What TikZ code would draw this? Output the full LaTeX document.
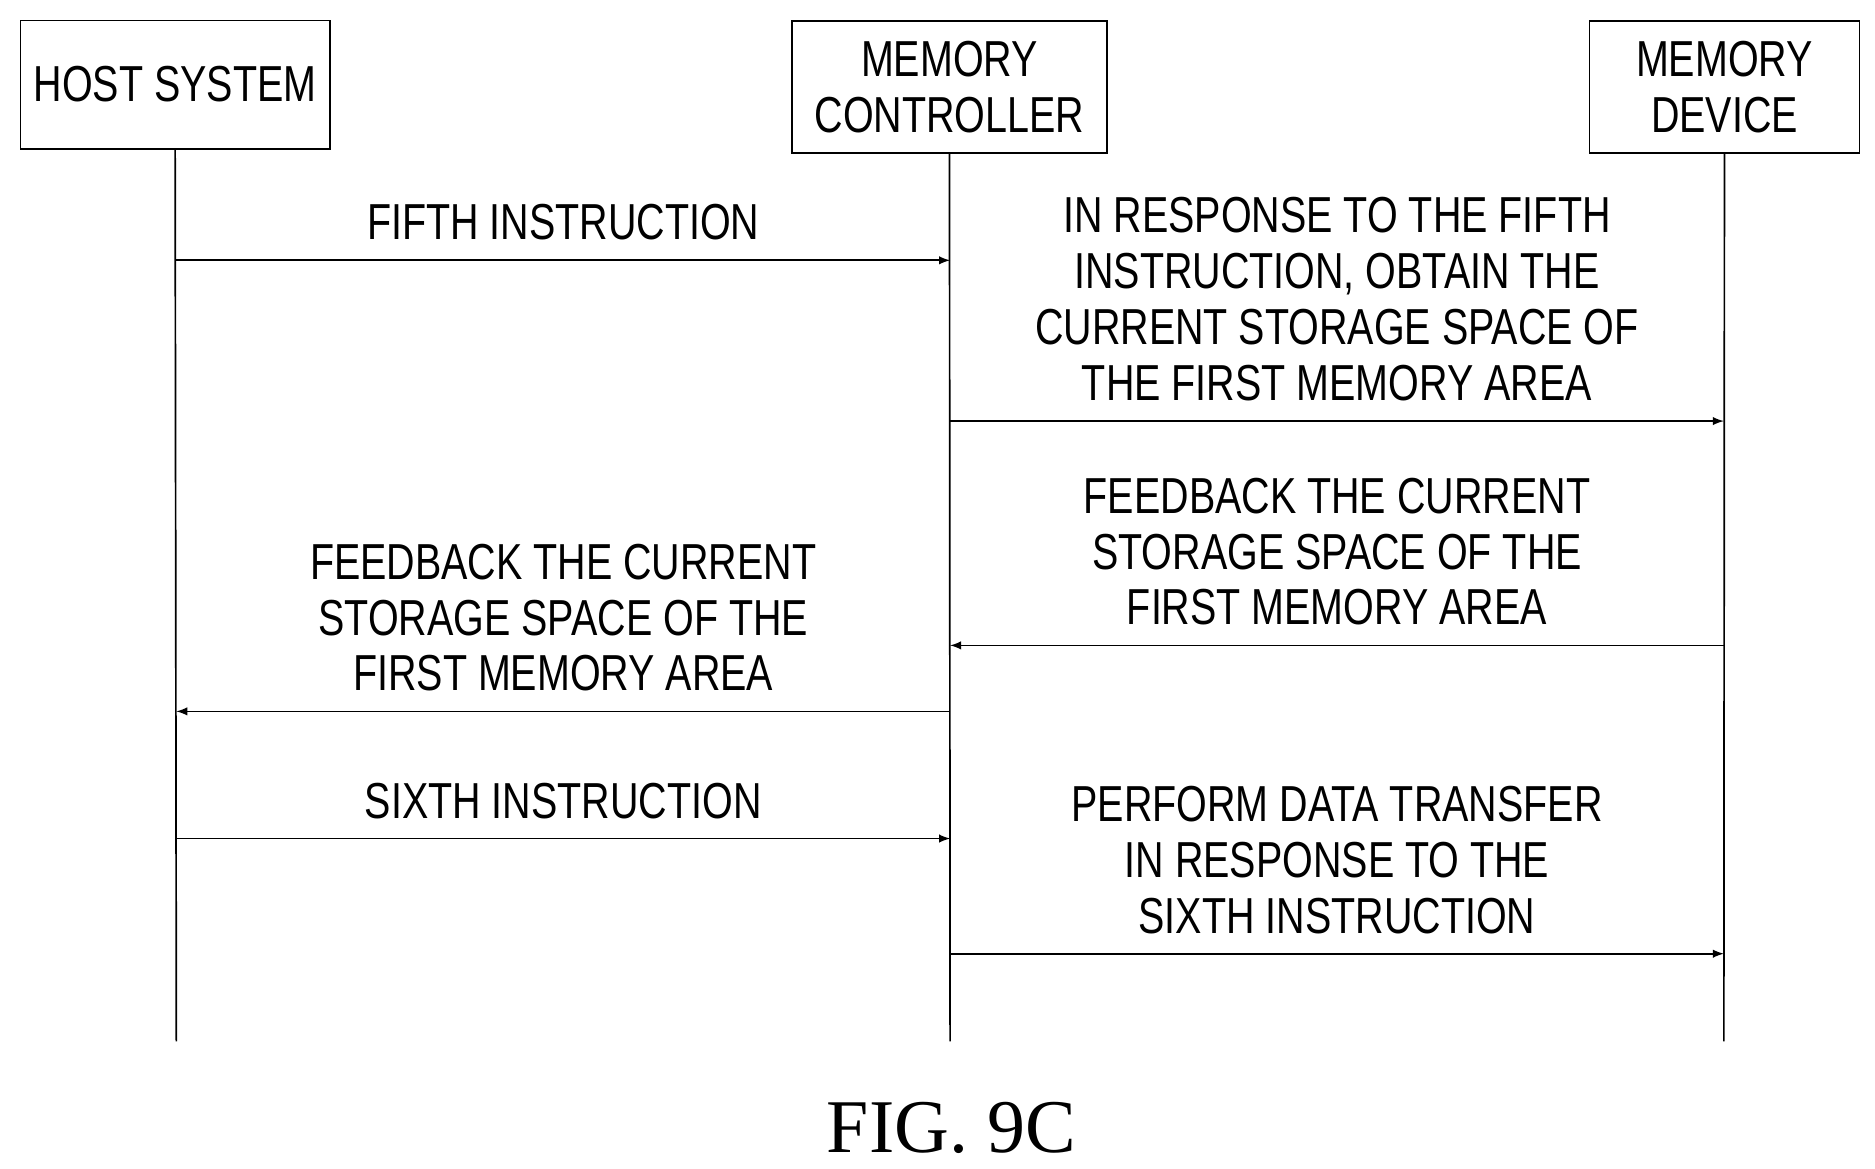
\documentclass[tikz,border=0pt]{standalone}
\usepackage{fontspec}
\setmainfont{Liberation Sans}[FakeStretch=0.78]
\newfontfamily\figfont{Liberation Serif}
\begin{document}
\begin{tikzpicture}[x=0.02cm, y=-0.02cm,
		every node/.style={font=\fontsize{24}{26.5}\selectfont, align=center},
		party/.style={draw, thick, rectangle, minimum height=2.2cm},
		msg/.style={-latex, thick},
		lbl/.style={above, midway, inner sep=0pt, yshift=3.2mm}]
	\useasboundingbox (0, 0) rectangle (1563, 974);

	\node[party, minimum width=5.16cm, minimum height=2.14cm] (host) at (146, 70.5) {HOST SYSTEM};
	\node[party, minimum width=5.26cm] (ctrl) at (791.5, 72.5) {MEMORY\\CONTROLLER};
	\node[party, minimum width=4.5cm] (dev) at (1437.5, 72.5) {MEMORY\\DEVICE};

	\coordinate (hEnd) at (147, 868);
	\coordinate (cEnd) at (792, 868);
	\coordinate (dEnd) at (1437, 868);
	\draw[thick] (host.south) -- (hEnd);
	\draw[thick] (ctrl.south) -- (cEnd);
	\draw[thick] (dev.south) -- (dEnd);

	\coordinate (h1) at (147, 217); \coordinate (c1) at (792, 217);
	\coordinate (c2) at (792, 351); \coordinate (d2) at (1437, 351);
	\coordinate (d3) at (1437, 538); \coordinate (c3) at (792, 538);
	\coordinate (c4) at (792, 593); \coordinate (h4) at (147, 593);
	\coordinate (h5) at (147, 699); \coordinate (c5) at (792, 699);
	\coordinate (c6) at (792, 795); \coordinate (d6) at (1437, 795);

	\draw[msg] (h1) -- (c1) node[lbl] {FIFTH INSTRUCTION};
	\draw[msg] (c2) -- (d2) node[lbl] {IN RESPONSE TO THE FIFTH\\INSTRUCTION, OBTAIN THE\\CURRENT STORAGE SPACE OF\\THE FIRST MEMORY AREA};
	\draw[msg] (d3) -- (c3) node[lbl] {FEEDBACK THE CURRENT\\STORAGE SPACE OF THE\\FIRST MEMORY AREA};
	\draw[msg] (c4) -- (h4) node[lbl] {FEEDBACK THE CURRENT\\STORAGE SPACE OF THE\\FIRST MEMORY AREA};
	\draw[msg] (h5) -- (c5) node[lbl] {SIXTH INSTRUCTION};
	\draw[msg] (c6) -- (d6) node[lbl] {PERFORM DATA TRANSFER\\IN RESPONSE TO THE\\SIXTH INSTRUCTION};

	\node[font=\figfont\fontsize{36}{40}\selectfont] (fig) at (793, 940) {FIG. 9C};
\end{tikzpicture}
\end{document}
